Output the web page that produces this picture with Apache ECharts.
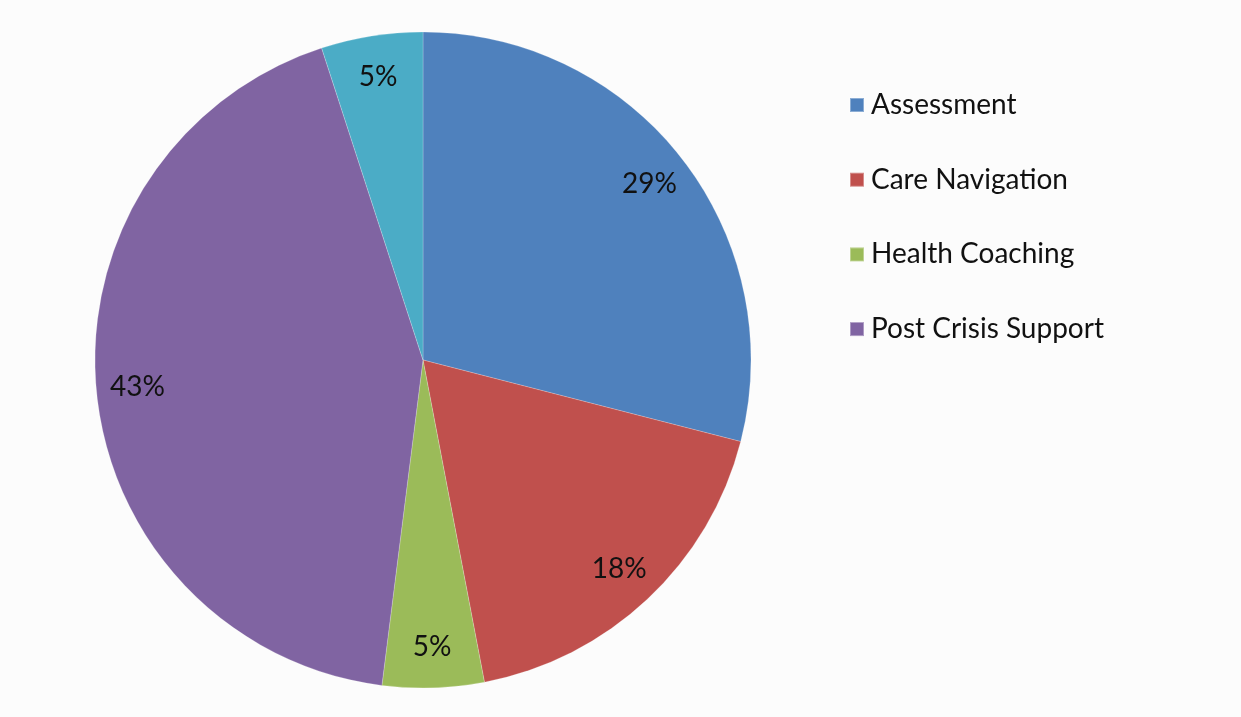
<!DOCTYPE html>
<html>
<head>
<meta charset="utf-8">
<script src="https://cdn.jsdelivr.net/npm/echarts@6/dist/echarts.min.js"></script>
<style>
  html, body { margin: 0; padding: 0; background: #fcfcfc; }
  #chart { width: 1241px; height: 717px; }
</style>
</head>
<body>
<div id="chart"></div>
<script>
// Share of service types
const categories = ['Assessment', 'Care Navigation', 'Health Coaching', 'Post Crisis Support', 'Other'];
const values = [29, 18, 5, 43, 5];
const colors = ['#4F81BD', '#C0504D', '#9BBB59', '#8064A2', '#4BACC6'];
const legendNames = ['Assessment', 'Care Navigation', 'Health Coaching', 'Post Crisis Support'];

const pieData = categories.map((name, i) => ({
  name: name,
  value: values[i],
  itemStyle: { color: colors[i] }
}));

const chart = echarts.init(document.getElementById('chart'));
const R = 328;
const center = [423, 360];

chart.setOption({
  backgroundColor: '#fcfcfc',
  animation: false,
  legend: {
    data: legendNames,
    orient: 'vertical',
    left: 844,
    top: 85,
    icon: 'rect',
    itemWidth: 14,
    itemHeight: 14,
    itemGap: 44.7,
    textStyle: {
      fontFamily: 'Lato', fontSize: 28, color: '#111', lineHeight: 30,
      padding: [0, 0, 0, 2]
    }
  },
  series: [
    {
      type: 'pie',
      center: center,
      radius: [0, R],
      startAngle: 90,
      clockwise: true,
      data: pieData,
      label: { show: false },
      labelLine: { show: false },
      itemStyle: { borderColor: 'rgba(255,255,255,0.35)', borderWidth: 0.6 },
      emphasis: { disabled: true }
    },
    {
      // ring used only to place percentage labels near the rim
      type: 'pie',
      center: center,
      radius: [R * 0.73, R],
      startAngle: 90,
      clockwise: true,
      silent: true,
      data: pieData.map(d => ({ name: d.name, value: d.value, itemStyle: { color: 'rgba(0,0,0,0)' } })),
      label: {
        show: true,
        position: 'inside',
        formatter: p => p.value + '%',
        fontFamily: 'Lato',
        fontSize: 28,
        color: '#111'
      },
      labelLine: { show: false },
      emphasis: { disabled: true }
    }
  ]
});
</script>
</body>
</html>
